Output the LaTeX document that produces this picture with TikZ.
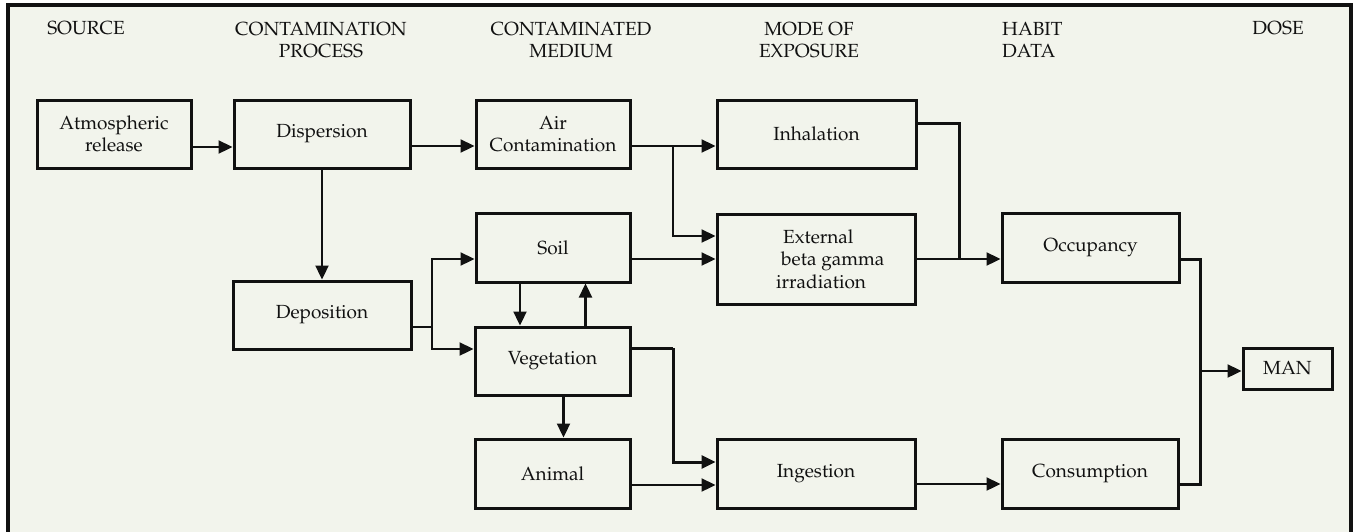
\documentclass[tikz,border=0pt]{standalone}
\usepackage[T1]{fontenc}
\usepackage{mathpazo}
\usetikzlibrary{arrows.meta,calc}
\definecolor{panel}{HTML}{F2F4EC}
\definecolor{ink}{HTML}{111111}
\begin{document}
\begin{tikzpicture}[x=1pt,y=-1pt,
  every node/.style={font=\fontsize{19}{22.5}\selectfont, text=ink},
  box/.style={draw=ink, line width=3pt, rectangle, inner sep=0pt, align=center},
  head/.style={inner sep=0pt, align=center},
  conn/.style={draw=ink, line width=2.3pt, line join=miter},
  heavy/.style={draw=ink, line width=3pt, line join=miter},
  arr/.style={-{Triangle[length=14pt,width=13pt]}}]
% canvas and panel
\useasboundingbox (0,0) rectangle (1353,531);
\fill[white] (0,0) rectangle (1353,531);
\fill[panel] (8,5) rectangle (1351,540);
\draw[ink, line width=3.5pt] (8,540) -- (8,5) -- (1351,5) -- (1351,540);

% column headings
\node[head] (hsrc) at (86,28.5) {SOURCE};
\node[head] (hproc) at (321,40) {CONTAMINATION\\PROCESS};
\node[head] (hmed) at (571,40) {CONTAMINATED\\MEDIUM};
\node[head] (hexp) at (809,40) {MODE OF\\EXPOSURE};
\node[head, align=left, anchor=west] (hhab) at (1002,40) {HABIT\\DATA};
\node[head] (hdose) at (1278,28.5) {DOSE};

% boxes
\node[box, minimum width=154pt, minimum height=68pt] (atm) at (114,134) {Atmospheric\\release};
\node[box, minimum width=176pt, minimum height=68pt] (disp) at (322,134) {Dispersion};
\node[box, minimum width=154pt, minimum height=68pt] (air) at (553,134) {Air\\Contamination};
\node[box, minimum width=199pt, minimum height=68pt] (inh) at (816.5,134) {Inhalation};
\node[box, minimum width=154pt, minimum height=69pt] (soil) at (553,247.5) {Soil};
\node[box, minimum width=198pt, minimum height=90pt] (ext) at (816,259) {};
\node[inner sep=0pt, align=left, anchor=west] (extlab) at (776,259)
  {\hspace*{7pt}External\\\hspace*{5pt}beta gamma\\irradiation};
\node[box, minimum width=177pt, minimum height=69pt] (occ) at (1090.5,247.5) {Occupancy};
\node[box, minimum width=178pt, minimum height=68pt] (dep) at (322,315) {Deposition};
\node[box, minimum width=155pt, minimum height=68pt] (veg) at (552.5,361) {Vegetation};
\node[box, minimum width=89pt, minimum height=41pt] (man) at (1287.5,368.5) {MAN};
\node[box, minimum width=155pt, minimum height=69pt] (ani) at (552.5,473.5) {Animal};
\node[box, minimum width=198pt, minimum height=69pt] (ing) at (816,473.5) {Ingestion};
\node[box, minimum width=176pt, minimum height=69pt] (cons) at (1090,473.5) {Consumption};

% junction points
\coordinate (jair) at (673,146);
\coordinate (jdep) at (432,327);
\coordinate (jveg) at (673,348);
\coordinate (jinh) at (959,259);
\coordinate (jman) at (1200,371);

% connectors
\draw[conn, arr] ([yshift=-13pt]atm.east) -- ([yshift=-13pt]disp.west);
\draw[conn, arr] ([yshift=-12pt]disp.east) -- ([yshift=-12pt]air.west);
\draw[conn, arr] (disp.south) -- (dep.north);
\draw[conn, arr] ([yshift=-12pt]air.east) -- ([yshift=-12pt]inh.west);
\draw[conn, arr] (jair) |- ([yshift=23pt]ext.west);
\draw[conn, arr] ([yshift=-11.5pt]soil.east) -- (ext.west);
\draw[conn] ([yshift=-12pt]dep.east) -- (jdep);
\draw[conn, arr] (jdep) |- ([yshift=-11.5pt]soil.west);
\draw[conn, arr] (jdep) |- ([yshift=12pt]veg.west);
\draw[conn, arr] ([xshift=-33pt]soil.south) -- ([xshift=-33pt]soil.south |- veg.north);
\draw[conn, arr] ([xshift=33pt]veg.north) -- ([xshift=33pt]veg.north |- soil.south);
\draw[conn, arr] ([xshift=11pt]veg.south) -- ([xshift=11pt]veg.south |- ani.north);
\draw[heavy] ([yshift=13pt]veg.east) -- (jveg);
\draw[heavy, arr] (jveg) |- ([yshift=11.5pt]ing.west);
\draw[conn, arr] ([yshift=-11.5pt]ani.east) -- ([yshift=-11.5pt]ing.west);
\draw[conn, arr] ([yshift=-10.5pt]ing.east) -- ([yshift=-10.5pt]ing.east -| cons.west);
\draw[heavy] ([yshift=11pt]inh.east) -| (jinh);
\draw[conn, arr] (ext.east) -- (ext.east -| occ.west);
\draw[heavy] ([yshift=-11.5pt]occ.east) -| (jman);
\draw[heavy] ([yshift=-10.5pt]cons.east) -| (jman);
\draw[conn, arr] (jman) -- (jman -| man.west);
\end{tikzpicture}
\end{document}
